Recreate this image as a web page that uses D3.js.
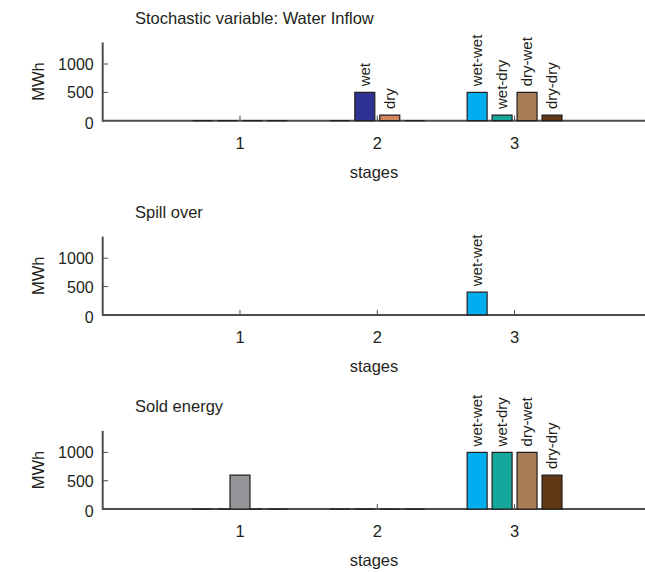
<!DOCTYPE html>
<html>
<head>
<meta charset="utf-8">
<script src="https://cdn.jsdelivr.net/npm/d3@7"></script>
<style>
  body { margin: 0; background: #fff; }
  svg { display: block; }
  text { font-family: "Liberation Sans", Arial, Helvetica, sans-serif; fill: #231f20; }
</style>
</head>
<body>
<svg id="chart" width="645" height="572"></svg>
<script>
// Stages of the scenario tree and the value ticks shared by all panels
const stages = [1, 2, 3];
const yTicks = [0, 500, 1000];
const yLimits = [1380, 1380, 1380];

const panelTitles = ["Stochastic variable: Water Inflow", "Spill over", "Sold energy"];

// Four node slots per stage: stage 2 uses the middle two, stage 3 all four
const slotLabels = [
  ["", "", "", ""],
  ["", "wet", "dry", ""],
  ["wet-wet", "wet-dry", "dry-wet", "dry-dry"]
];
const slotColors = [
  ["#231f20", "#231f20", "#231f20", "#231f20"],
  ["#231f20", "#2e3192", "#d3855e", "#231f20"],
  ["#00aeef", "#14a89c", "#a87d54", "#603813"]
];

// Values per stage (rows) and slot (columns), in MWh; null = not drawn
const inflowValues = [
  [0, 0, 0, 0],
  [0, 500, 100, 0],
  [500, 100, 500, 100]
];
const spillValues = [
  [null, null, null, null],
  [null, null, null, null],
  [400, null, null, null]
];
const soldValues = [
  [0, 0, 0, 0],
  [0, 0, 0, 0],
  [1000, 1000, 1000, 600]
];
// Root node (stage 1) bar of each panel
const rootValues = [null, null, 600];
const rootColor = "#939598";

const panelValues = [inflowValues, spillValues, soldValues];

const svg = d3.select("#chart");
const axisX = 102.7;
const firstBase = 120.7;
const panelStep = 194.2;
const pxPerUnit = 0.0567;

const x = d3.scaleLinear().domain([0, 3.95]).range([axisX, 645]);
const nSlots = 4;
const groupWidth = Math.min(0.8, nSlots / (nSlots + 1.5));
const slotStep = groupWidth / nSlots;
const barWidth = 0.8 * slotStep;

function barPath(cx, v, y) {
  const x0 = x(cx - barWidth / 2), x1 = x(cx + barWidth / 2);
  const y0 = y(0), y1 = y(v);
  return `M${x0},${y0}V${y1}H${x1}V${y0}Z`;
}

panelTitles.forEach((title, p) => {
  const base = firstBase + p * panelStep;
  const yMax = yLimits[p];
  const y = d3.scaleLinear().domain([0, yMax]).range([base, base - yMax * pxPerUnit]);
  const g = svg.append("g");

  // title
  g.append("text")
    .attr("x", 135).attr("y", base - 97)
    .attr("font-size", 16.5)
    .text(title);

  // axes lines
  g.append("line")
    .attr("x1", axisX).attr("x2", 645)
    .attr("y1", base).attr("y2", base)
    .attr("stroke", "#4d4d4f").attr("stroke-width", 2);
  g.append("line")
    .attr("x1", axisX).attr("x2", axisX)
    .attr("y1", y(yMax)).attr("y2", base + 1)
    .attr("stroke", "#4d4d4f").attr("stroke-width", 2);

  // y ticks (pointing inward) and labels
  yTicks.forEach(t => {
    if (t > 0) {
      g.append("line")
        .attr("x1", axisX).attr("x2", axisX + 5.5)
        .attr("y1", y(t)).attr("y2", y(t))
        .attr("stroke", "#4d4d4f").attr("stroke-width", 1);
    }
    g.append("text")
      .attr("x", axisX - 9)
      .attr("y", y(t) + (t === 0 ? 8 : 6))
      .attr("text-anchor", "end")
      .attr("font-size", 16)
      .text(t);
  });

  // x ticks and labels
  stages.forEach(s => {
    g.append("line")
      .attr("x1", x(s)).attr("x2", x(s))
      .attr("y1", base).attr("y2", base - 5)
      .attr("stroke", "#4d4d4f").attr("stroke-width", 1);
    g.append("text")
      .attr("x", x(s)).attr("y", base + 28)
      .attr("text-anchor", "middle")
      .attr("font-size", 16.5)
      .text(s);
  });

  // axis titles
  g.append("text")
    .attr("x", 374).attr("y", base + 57)
    .attr("text-anchor", "middle")
    .attr("font-size", 16.5)
    .text("stages");
  g.append("text")
    .attr("transform", `translate(44,${(y(yMax) + base) / 2}) rotate(-90)`)
    .attr("text-anchor", "middle")
    .attr("font-size", 16.5)
    .text("MWh");

  // grouped bars
  const values = panelValues[p];
  const bars = [];
  stages.forEach((s, si) => {
    values[si].forEach((v, k) => {
      if (v === null) return;
      bars.push({
        cx: s + (k - (nSlots - 1) / 2) * slotStep,
        v: v,
        color: slotColors[si][k],
        label: v > 0 ? slotLabels[si][k] : ""
      });
    });
  });
  if (rootValues[p] !== null) {
    bars.push({ cx: stages[0], v: rootValues[p], color: rootColor, label: "" });
  }

  g.selectAll("path.bar").data(bars).join("path")
    .attr("class", "bar")
    .attr("d", d => barPath(d.cx, d.v, y))
    .attr("fill", d => d.color)
    .attr("stroke", "#231f20")
    .attr("stroke-width", 1.2);

  g.selectAll("text.barlabel").data(bars.filter(d => d.label)).join("text")
    .attr("class", "barlabel")
    .attr("transform", d => `translate(${x(d.cx) + 5},${y(d.v) - 6}) rotate(-90)`)
    .attr("font-size", 15)
    .text(d => d.label);
});
</script>
</body>
</html>
